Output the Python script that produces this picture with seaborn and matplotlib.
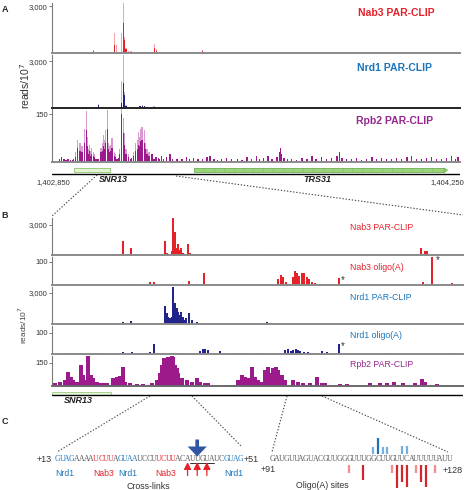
import numpy as np
import seaborn as sns
import matplotlib
matplotlib.use('Agg')
import matplotlib.pyplot as plt
from matplotlib.lines import Line2D
from matplotlib.patches import Rectangle, Polygon

W, H = 465, 490

# ---------------- data ----------------
# panel A: positions are bp offsets from 1,402,850
A_START, A_END = 1402850, 1404250
A_LEN = A_END - A_START

nab3_a_light_pos = [120, 141, 161, 178, 206, 213, 220, 240, 244, 247, 250, 254, 264, 271, 278, 298,
                    353, 357, 412, 446, 515, 518, 617, 720, 892, 1029, 1166, 1303]
nab3_a_light = [60, 220, 60, 50, 90, 1250, 480, 1250, 3200, 900, 1000, 300, 100, 120, 80, 40,
                600, 250, 20, 15, 130, 160, 20, 15, 15, 15, 15, 10]
nab3_a_dark_pos = [141, 213, 244, 247, 250, 254, 257, 264, 271, 278, 353, 357, 515, 518]
nab3_a_dark = [150, 500, 1900, 800, 500, 250, 150, 60, 60, 60, 350, 150, 80, 100]

nrd1_a_light_pos = [86, 137, 158, 161, 240, 244, 247, 250, 254, 302, 309, 316, 350, 515, 686, 840]
nrd1_a_light = [40, 30, 270, 150, 1700, 3400, 1000, 850, 200, 150, 170, 150, 100, 30, 20, 30]
nrd1_a_dark_pos = [158, 240, 244, 247, 250, 254, 257, 302, 309, 316, 350]
nrd1_a_dark = [170, 300, 1600, 850, 350, 150, 80, 100, 130, 100, 60]

rpb2_a_pos = [82, 86, 89, 93, 96, 99, 103, 106, 110, 113, 117, 120, 123, 127, 130, 134, 137, 141, 144, 147,
              165, 168, 172, 175, 178, 182, 185, 189, 192, 196, 199, 202, 206, 209, 213, 216,
              233, 237, 240, 244, 247, 250, 254, 257, 261,
              281, 285, 288, 292, 295, 298, 302, 305, 309, 312, 316, 319, 322, 326, 329, 333, 336, 340]
rpb2_a_light = [30, 55, 70, 45, 60, 35, 50, 40, 75, 105, 160, 80, 50, 40, 55, 35, 45, 30, 25, 15,
                30, 45, 60, 40, 85, 70, 100, 165, 60, 50, 40, 55, 75, 40, 30, 25,
                40, 100, 167, 140, 90, 60, 40, 30, 25,
                30, 50, 60, 45, 70, 95, 80, 105, 110, 75, 100, 60, 45, 40, 25, 30, 20, 15]
rpb2_a_dark = [15, 30, 45, 25, 35, 20, 30, 25, 45, 60, 100, 50, 30, 25, 35, 20, 25, 20, 15, 10,
               20, 30, 35, 25, 50, 40, 60, 105, 40, 30, 25, 35, 45, 25, 20, 15,
               25, 60, 150, 90, 55, 35, 25, 20, 15,
               20, 30, 35, 30, 40, 55, 50, 65, 70, 45, 60, 40, 30, 25, 15, 20, 12, 10]
rpb2_a_tail_pos = [27, 34, 41, 48, 55, 62, 69, 75, 151, 154, 158, 223, 226, 230, 264, 268, 271, 274,
                   343, 346, 350, 357, 364, 370, 377, 384, 394, 405, 412, 429, 446, 463, 473, 487, 501,
                   515, 532, 542, 556, 569, 583, 600, 617, 635, 652, 669, 686, 703, 713, 727, 741, 755,
                   772, 782, 785, 789, 796, 809, 823, 840, 858, 875, 892, 906, 926, 943, 960, 978, 988,
                   995, 1012, 1029, 1046, 1063, 1080, 1098, 1115, 1132, 1149, 1166, 1183, 1200, 1218,
                   1235, 1252, 1269, 1286, 1303, 1320, 1338, 1355, 1372, 1386, 1393]
rpb2_a_tail = [10, 15, 8, 5, 8, 6, 5, 10, 10, 8, 10, 10, 10, 12, 15, 10, 10, 12,
               25, 12, 10, 15, 12, 8, 20, 10, 15, 25, 10, 8, 10, 15, 8, 12, 8,
               10, 15, 20, 8, 5, 10, 12, 8, 10, 6, 15, 10, 20, 8, 12, 18, 10,
               15, 30, 45, 25, 12, 10, 8, 6, 12, 8, 20, 10, 15, 8, 12, 18, 30,
               12, 10, 8, 12, 6, 10, 15, 8, 12, 10, 8, 12, 10, 15,
               20, 8, 10, 12, 15, 10, 8, 12, 18, 10, 15]

snr13_a = (75, 199)
trs31_a = (487, 1355)

# panel B: positions along the zoomed window
B_LEN = 411
nab3_b_pos = [7, 20, 29, 37, 60, 62, 64, 66, 71, 79, 106, 113, 115, 117, 120, 121, 123, 124, 126, 127,
              129, 131, 133, 136, 138, 141, 144, 147, 186, 189, 191, 201, 215, 218, 222, 226, 230, 234,
              238, 250, 300, 369, 373, 375, 385]
nab3_b = [30, 40, 30, 30, 60, 100, 80, 100, 1400, 670, 40, 1400, 240, 120, 360, 3700, 2250, 720, 1050, 480,
          670, 180, 120, 1080, 180, 60, 60, 60, 50, 50, 50, 100, 60, 60, 60, 60, 60, 60,
          60, 30, 20, 730, 420, 400, 60]
nab3_oligo_pos = [80, 98, 102, 121, 137, 152, 226, 229, 231, 234, 241, 243, 245, 247, 250, 252, 255, 257,
                  260, 263, 268, 276, 287, 371, 380, 400]
nab3_oligo = [4, 14, 14, 3, 17, 53, 24, 43, 36, 14, 36, 61, 53, 39, 50, 53, 36, 24,
              14, 7, 4, 4, 31, 11, 125, 10]
nrd1_b_pos = [10, 25, 40, 55, 71, 79, 90, 100, 113, 115, 116, 118, 120, 121, 123, 125, 126, 128, 129, 131,
              133, 134, 137, 140, 145, 211, 215, 218, 222, 226, 250, 300, 368, 372, 375]
nrd1_b = [30, 40, 30, 40, 230, 290, 30, 40, 1740, 1030, 710, 550, 710, 3580, 2000, 1520, 1200, 870, 1200, 710,
          390, 550, 1030, 390, 230, 100, 150, 120, 100, 80, 30, 30, 80, 100, 60]
nrd1_oligo_pos = [20, 28, 45, 71, 80, 98, 102, 125, 148, 151, 153, 156, 168, 181, 188, 205, 233, 236, 239,
                  241, 244, 246, 248, 252, 256, 262, 270, 275, 287, 336, 398]
nrd1_oligo = [3, 3, 3, 10, 8, 8, 48, 5, 13, 25, 25, 21, 13, 5, 5, 3, 21, 25, 16,
              17, 24, 17, 13, 10, 10, 5, 13, 10, 48, 3, 3]
rpb2_b_pos = [3, 8, 13, 16, 19, 21, 25, 29, 31, 33, 36, 39, 41, 45, 48, 51, 55, 58, 61, 65,
              68, 71, 73, 78, 85, 91, 100, 105, 108, 110, 112, 115, 116, 118, 120, 121, 123, 125, 126, 130,
              135, 140, 145, 148, 153, 156, 172, 180, 186, 190, 193, 196, 200, 203, 206, 210, 213, 216, 219, 221,
              224, 226, 230, 233, 241, 246, 251, 258, 265, 270, 273, 288, 295, 318, 328, 335, 342, 351, 363, 370,
              373, 385]
rpb2_b = [17, 28, 39, 92, 60, 39, 28, 134, 70, 39, 192, 70, 49, 28, 21, 17, 17, 7, 49, 60,
          64, 120, 28, 17, 13, 11, 17, 39, 81, 134, 178, 167, 189, 145, 192, 189, 134, 113, 81, 49,
          39, 28, 49, 28, 21, 17, 6, 6, 39, 70, 60, 49, 120, 60, 39, 28, 102, 124, 81, 113,
          124, 102, 70, 39, 39, 28, 21, 17, 55, 17, 17, 11, 11, 17, 17, 17, 28, 21, 21, 42,
          28, 11]
snr13_b = (0, 59)

# panel C
SEQ_LEFT = "GUAGAAAAUCUUAGUAAUCCUUCUUACAUUGUAUCGUAG"
SEQ_LEFT_START = 13
MOTIFS = [(13, 'Nrd1'), (21, 'Nab3'), (26, 'Nrd1'), (34, 'Nab3'), (48, 'Nrd1')]
NAB3_XL = [40, 42, 44]
NRD1_XL = [42]
UNDERLINED = (41, 45)
SEQ_RIGHT = "GAUGUUAGUACGUUGGGUUUGGCUUGUUCAUUUUUAUU"
SEQ_RIGHT_START = 91
nrd1_site_nt = [112, 113, 114, 115, 118, 119]
nrd1_site_n = [7, 16, 7, 7, 8, 8]
nab3_site_nt = [107, 110, 116, 117, 118, 119, 121, 122, 123, 125]
nab3_site_n = [8, 15, 8, 23, 17, 22, 8, 17, 22, 8]

# ---------------- style ----------------
RED = '#e4222a'
RED_LIGHT = '#f3a3a6'
BLUE_TXT = '#1b75bb'
NAVY = '#23238c'
NAVY_LIGHT = '#b4b4da'
PURPLE = '#9c1a8c'
PURPLE_LIGHT = '#d99ad2'
PURPLE_TXT = '#95268e'
GRAY = '#555555'

sns.set_theme(style='white')
plt.rcParams['font.family'] = ['Liberation Sans', 'DejaVu Sans']

fig = plt.figure(figsize=(W / 100, H / 100), dpi=100)


def px_axes(x0, y0, x1, y1):
    return fig.add_axes([x0 / W, 1 - y1 / H, (x1 - x0) / W, (y1 - y0) / H])


def fig_text(x, y, s, **kw):
    kw.setdefault('ha', 'center')
    kw.setdefault('va', 'center')
    fig.text(x / W, 1 - y / H, s, **kw)


def bars(ax, pos, vals, color, bar_w):
    gap = np.diff(np.unique(pos)).min()
    sns.barplot(x=pos, y=vals, native_scale=True, orient='x', width=bar_w / gap,
                color=color, saturation=1, errorbar=None, edgecolor='none',
                linewidth=0, ax=ax)


def style_track(ax, xmax, ytop, tick, label, base='#8a8a8a'):
    ax.set_xlim(0, xmax)
    ax.set_ylim(0, ytop)
    ax.set_xticks([])
    ax.set_yticks([tick])
    ax.set_yticklabels([label])
    ax.set_xlabel('')
    ax.set_ylabel('')
    sns.despine(ax=ax)
    ax.spines['left'].set_color('#7a7a7a')
    ax.spines['left'].set_linewidth(0.8)
    ax.spines['bottom'].set_color(base)
    ax.spines['bottom'].set_linewidth(1.4)
    ax.tick_params(axis='y', length=2, width=0.7, pad=1, labelsize=5.5,
                   labelcolor='#333333', color='#7a7a7a', left=True)
    ax.patch.set_alpha(0)


# ---------------- panel A ----------------
ax = px_axes(52, 3, 460, 53)
bars(ax, nab3_a_light_pos, nab3_a_light, RED_LIGHT, 3.6)
bars(ax, nab3_a_dark_pos, nab3_a_dark, RED, 3.6)
style_track(ax, A_LEN, 3200, 3000, '3,000')

ax = px_axes(52, 55, 460, 108)
bars(ax, nrd1_a_light_pos, nrd1_a_light, NAVY_LIGHT, 3.6)
bars(ax, nrd1_a_dark_pos, nrd1_a_dark, NAVY, 3.6)
style_track(ax, A_LEN, 3400, 3000, '3,000', base='#222222')

ax = px_axes(52, 109, 460, 162)
bars(ax, rpb2_a_pos, rpb2_a_light, PURPLE_LIGHT, 3.8)
bars(ax, rpb2_a_pos, rpb2_a_dark, PURPLE, 3.8)
bars(ax, rpb2_a_tail_pos, rpb2_a_tail, PURPLE, 3.8)
style_track(ax, A_LEN, 167, 150, '150')

fig_text(396, 13, 'Nab3 PAR-CLIP', color=RED, fontsize=7.5, fontweight='bold')
fig_text(394, 68, 'Nrd1 PAR-CLIP', color=BLUE_TXT, fontsize=7.5, fontweight='bold')
fig_text(395, 121, 'Rpb2 PAR-CLIP', color=PURPLE_TXT, fontsize=7.5, fontweight='bold')
fig_text(25, 86, 'reads/10$^7$', rotation=90, fontsize=7.5, color='#333333')

# gene track A (y in px below 164)
ax = px_axes(52, 164, 460, 190)
ax.set_xlim(0, A_LEN)
ax.set_ylim(26, 0)
ax.axis('off')
ax.add_patch(Rectangle((snr13_a[0], 4), snr13_a[1] - snr13_a[0], 4.5,
                       facecolor='#e4f3d2', edgecolor='#8cc46e', lw=0.6))
ax.add_patch(Rectangle((trs31_a[0], 4), trs31_a[1] - trs31_a[0] - 10, 4.5,
                       facecolor='#9fd47f', edgecolor='#6db350', lw=0.6))
ax.add_patch(Polygon([(trs31_a[1] - 10, 4), (trs31_a[1] + 2, 6.25), (trs31_a[1] - 10, 8.5)],
                     facecolor='#9fd47f', edgecolor='#6db350', lw=0.6))
ax.vlines(np.arange(trs31_a[0] + 34, trs31_a[1] - 20, 34), 5, 7.5, color='#6db350', lw=0.4)
ax.axhline(10, color='black', lw=1)
fig_text(36, 183, '1,402,850', fontsize=5.5, color='#333333', ha='left')
fig_text(464, 183, '1,404,250', fontsize=5.5, color='#333333', ha='right')
fig_text(113, 180, 'SNR13', fontsize=6.5, fontweight='bold', fontstyle='italic', color='#222222')
fig_text(317, 180, 'TRS31', fontsize=6.5, fontweight='bold', fontstyle='italic', color='#222222')

# ---------------- panel B ----------------
ax = px_axes(52, 218, 463, 255)
bars(ax, nab3_b_pos, nab3_b, RED, 1.6)
style_track(ax, B_LEN, 3700, 3000, '3,000')

ax = px_axes(52, 257, 463, 285)
bars(ax, nab3_oligo_pos, nab3_oligo, RED, 1.6)
style_track(ax, B_LEN, 120, 100, '100')
ax.text(291, 22, '*', fontsize=7, color='#333333', ha='center', va='center')
ax.text(386, 108, '*', fontsize=7, color='#333333', ha='center', va='center')

ax = px_axes(52, 287, 463, 324)
bars(ax, nrd1_b_pos, nrd1_b, NAVY, 1.6)
style_track(ax, B_LEN, 3580, 3000, '3,000')

ax = px_axes(52, 326, 463, 354)
bars(ax, nrd1_oligo_pos, nrd1_oligo, NAVY, 1.6)
style_track(ax, B_LEN, 133, 100, '100')
ax.text(291, 38, '*', fontsize=7, color='#333333', ha='center', va='center')

ax = px_axes(52, 356, 463, 386)
bars(ax, rpb2_b_pos, rpb2_b, PURPLE, 3.2)
style_track(ax, B_LEN, 193, 150, '150', base='#6a6a6a')

fig_text(350, 227, 'Nab3 PAR-CLIP', color=RED, fontsize=6.3, ha='left')
fig_text(350, 267, 'Nab3 oligo(A)', color=RED, fontsize=6.3, ha='left')
fig_text(350, 297, 'Nrd1 PAR-CLIP', color=BLUE_TXT, fontsize=6.3, ha='left')
fig_text(350, 335, 'Nrd1 oligo(A)', color=BLUE_TXT, fontsize=6.3, ha='left')
fig_text(350, 364, 'Rpb2 PAR-CLIP', color=PURPLE_TXT, fontsize=6.3, ha='left')
fig_text(23, 325, 'reads/10$^7$', rotation=90, fontsize=6, color='#444444')

ax = px_axes(52, 388, 463, 410)
ax.set_xlim(0, B_LEN)
ax.set_ylim(22, 0)
ax.axis('off')
ax.add_patch(Rectangle((snr13_b[0], 3.5), snr13_b[1] - snr13_b[0], 3,
                       facecolor='#eaf6dd', edgecolor='#9acb7e', lw=0.6))
ax.axhline(7, color='black', lw=1)
fig_text(78, 400, 'SNR13', fontsize=6.5, fontweight='bold', fontstyle='italic', color='#222222')

# ---------------- panel C ----------------
seq_font = ['Liberation Serif', 'DejaVu Serif']

axl = px_axes(55, 436, 243, 490)
axl.set_xlim(0, len(SEQ_LEFT))
axl.set_ylim(-31, 23)
axl.axis('off')
for i, ch in enumerate(SEQ_LEFT):
    nt = SEQ_LEFT_START + i
    col = GRAY
    for start, prot in MOTIFS:
        if start <= nt < start + 4:
            col = BLUE_TXT if prot == 'Nrd1' else RED
    axl.text(i + 0.5, 0, ch, ha='center', va='center', fontsize=5.6, color=col, family=seq_font)
for start, prot in MOTIFS:
    axl.text(start - SEQ_LEFT_START + 2, -14, prot, ha='center', va='center', fontsize=6.2,
             color=BLUE_TXT if prot == 'Nrd1' else RED)
axl.plot([UNDERLINED[0] - SEQ_LEFT_START, UNDERLINED[1] - SEQ_LEFT_START + 1], [-3.5, -3.5],
         color='#333333', lw=0.7)
for nt in NAB3_XL:
    x = nt - SEQ_LEFT_START + 0.5
    axl.annotate('', xy=(x, -3.2), xytext=(x, -16.5),
                 arrowprops=dict(arrowstyle='-|>,head_length=0.35,head_width=0.18',
                                 color=RED, lw=0.9, shrinkA=0, shrinkB=0))
for nt in NRD1_XL:
    x = nt - SEQ_LEFT_START + 0.5
    axl.annotate('', xy=(x, 2.5), xytext=(x, 19.5),
                 arrowprops=dict(arrowstyle='simple,head_length=0.6,head_width=1.15,tail_width=0.22',
                                 color='#2f55a4', lw=0, shrinkA=0, shrinkB=0))
axl.text(-0.6, 0, '+13', ha='right', va='center', fontsize=6.5, color='#333333')
axl.text(len(SEQ_LEFT) + 0.1, 0, '+51', ha='left', va='center', fontsize=6.5, color='#333333')
axl.text(19.3, -27, 'Cross-links', ha='center', va='center', fontsize=6.3, color='#333333')

axr = px_axes(270, 436, 452, 490)
axr.set_xlim(0, len(SEQ_RIGHT))
axr.set_ylim(-31, 23)
axr.axis('off')
for i, ch in enumerate(SEQ_RIGHT):
    axr.text(i + 0.5, 0, ch, ha='center', va='center', fontsize=5.6, color=GRAY, family=seq_font)
for nt, n in zip(nrd1_site_nt, nrd1_site_n):
    x = nt - SEQ_RIGHT_START + 0.5
    axr.vlines(x, 5, 5 + n, color='#1f6fb2' if n >= 10 else '#73aee0', lw=1.6)
for nt, n in zip(nab3_site_nt, nab3_site_n):
    x = nt - SEQ_RIGHT_START + 0.5
    axr.vlines(x, -6, -6 - n, color='#d3262c' if n >= 10 else '#ef8e8f', lw=1.6)
axr.text(-0.3, -10, '+91', ha='center', va='center', fontsize=6.5, color='#333333')
fig_text(463, 470, '+128', ha='right', fontsize=6.5, color='#333333')
axr.text(11, -26, 'Oligo(A) sites', ha='center', va='center', fontsize=6.3, color='#333333')

# ---------------- connectors & panel letters ----------------
for (x0, y0), (x1, y1) in [((97, 175), (52, 216)), ((176, 176), (463, 215)),
                           ((150, 396), (57, 452)), ((192, 396), (241, 446)),
                           ((287, 396), (272, 452)), ((322, 396), (448, 452))]:
    fig.add_artist(Line2D([x0 / W, x1 / W], [1 - y0 / H, 1 - y1 / H], color='#444444',
                          lw=0.8, ls=(0, (1.2, 1.6))))

fig_text(5, 10, 'A', fontsize=6.5, fontweight='bold')
fig_text(5, 216, 'B', fontsize=6.5, fontweight='bold')
fig_text(5, 421, 'C', fontsize=6.5, fontweight='bold')

fig.savefig('out.png', dpi=100)
